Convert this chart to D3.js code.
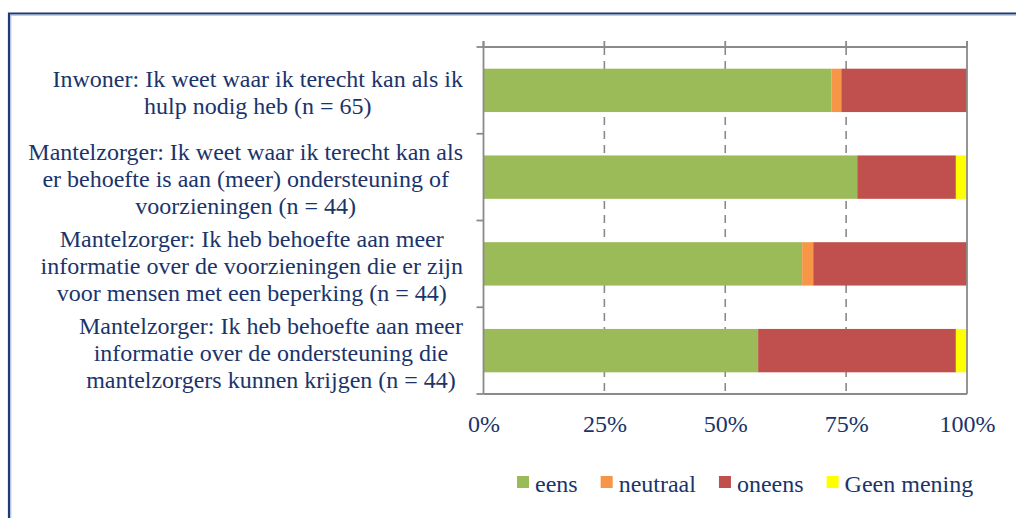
<!DOCTYPE html>
<html>
<head>
<meta charset="utf-8">
<script src="https://cdn.jsdelivr.net/npm/d3@7"></script>
<style>
  html, body { margin: 0; padding: 0; background: #ffffff; }
  svg { display: block; }
  text { font-family: "Liberation Serif", "Times New Roman", Tinos, serif; fill: #1A346B; }
</style>
</head>
<body>
<svg id="chart" width="1016" height="518"></svg>
<script>
// ---- data ----
const categories = [
  ["Inwoner: Ik weet waar ik terecht kan als ik", "hulp nodig heb (n = 65)"],
  ["Mantelzorger: Ik weet waar ik terecht kan als", "er behoefte is aan (meer) ondersteuning of", "voorzieningen (n = 44)"],
  ["Mantelzorger: Ik heb behoefte aan meer", "informatie over de voorzieningen die er zijn", "voor mensen met een beperking (n = 44)"],
  ["Mantelzorger: Ik heb behoefte aan meer", "informatie over de ondersteuning die", "mantelzorgers kunnen krijgen (n = 44)"]
];
const seriesNames = ["eens", "neutraal", "oneens", "Geen mening"];
const eens       = [72.0, 77.3, 65.9, 56.8];
const neutraal   = [2.0, 0.0, 2.3, 0.0];
const oneens     = [26.0, 20.4, 31.8, 40.9];
const geenMening = [0.0, 2.3, 0.0, 2.3];
const xTicks = [0, 25, 50, 75, 100];
const colors = ["#9BBB59", "#F79646", "#C0504D", "#FFFF00"];

// ---- build table ----
const ids = categories.map((c, i) => "c" + i);
const rows = ids.map((id, i) => ({
  id, lines: categories[i],
  "eens": eens[i], "neutraal": neutraal[i], "oneens": oneens[i], "Geen mening": geenMening[i]
}));
const stacked = d3.stack().keys(seriesNames)(rows);

const FONT = "'Liberation Serif', 'Times New Roman', Tinos, serif";
const TXT = "#1A346B";
const svg = d3.select("#chart");

// outer frame
svg.append("path")
  .attr("d", "M9,518 V13.5 H1016")
  .attr("fill", "none").attr("stroke", "#1F3A78").attr("stroke-width", 2.2);
svg.append("path")
  .attr("d", "M10.8,518 V15.2 H1016")
  .attr("fill", "none").attr("stroke", "#8FA6D0").attr("stroke-width", 0.8);

const pLeft = 483.5, pRight = 967, pTop = 47, pBottom = 394;
const x = d3.scaleLinear().domain([0, 100]).range([pLeft, pRight]);
const y = d3.scaleBand().domain(ids).range([pTop, pBottom]).paddingInner(0.5).paddingOuter(0.25);

const axisColor = "#8A8A8A";

// gridlines (dashed)
svg.append("g").selectAll("line").data(xTicks.filter(t => t > 0 && t < 100)).join("line")
  .attr("x1", d => x(d)).attr("x2", d => x(d))
  .attr("y1", pTop).attr("y2", pBottom)
  .attr("stroke", axisColor).attr("stroke-width", 1.6)
  .attr("stroke-dasharray", "8,6");

// bars
svg.append("g").selectAll("g").data(stacked).join("g")
  .attr("fill", (d, i) => colors[i])
  .selectAll("rect").data(d => d).join("rect")
  .attr("x", d => x(d[0]))
  .attr("width", d => Math.max(0, x(d[1]) - x(d[0])))
  .attr("y", d => y(d.data.id))
  .attr("height", y.bandwidth());

// plot frame lines
const g = svg.append("g").attr("stroke", axisColor).attr("stroke-width", 1.8).attr("fill", "none");
g.append("line").attr("x1", pLeft).attr("x2", pRight).attr("y1", pTop).attr("y2", pTop);
g.append("line").attr("x1", pLeft).attr("x2", pRight).attr("y1", pBottom).attr("y2", pBottom);
g.append("line").attr("x1", pRight).attr("x2", pRight).attr("y1", pTop - 6).attr("y2", pBottom);
g.append("line").attr("x1", pLeft).attr("x2", pLeft).attr("y1", pTop - 6).attr("y2", pBottom);
// top ticks
g.selectAll(".tt").data(xTicks).join("line").attr("class", "tt")
  .attr("x1", d => x(d)).attr("x2", d => x(d)).attr("y1", pTop - 6).attr("y2", pTop);
// category ticks on the left
const catTicks = [pTop].concat(ids.map(id => y(id) + y.bandwidth() + (y.step() - y.bandwidth()) / 2));
g.selectAll(".ct").data(catTicks).join("line").attr("class", "ct")
  .attr("x1", pLeft - 7).attr("x2", pLeft).attr("y1", d => d).attr("y2", d => d);

// x tick labels via axis
const xAxis = d3.axisBottom(x).tickValues(xTicks).tickSize(0).tickFormat(d => d + "%");
const ax = svg.append("g").attr("transform", `translate(0,${pBottom})`).call(xAxis)
  .attr("font-family", FONT).attr("font-size", 24);
ax.select(".domain").remove();
ax.selectAll("text")
  .attr("font-family", FONT)
  .attr("font-size", 24).attr("fill", TXT)
  .attr("dy", 0).attr("y", 38);

// category labels
const labelRight = 463, lineH = 27;
rows.forEach(r => {
  const cy = y(r.id) + y.bandwidth() / 2 + 2;
  const t = svg.append("text").attr("font-family", FONT).attr("fill", TXT)
    .attr("font-size", 24).attr("text-anchor", "middle");
  const n = r.lines.length;
  const spans = r.lines.map((ln, i) => t.append("tspan")
    .attr("y", cy + (i - (n - 1) / 2) * lineH + 8).text(ln));
  const maxW = d3.max(spans, s => s.node().getComputedTextLength());
  spans.forEach(s => s.attr("x", labelRight - maxW / 2));
});

// legend
const legend = svg.append("g");
let lx = 517;
seriesNames.forEach((name, i) => {
  legend.append("rect").attr("x", lx).attr("y", 476).attr("width", 12).attr("height", 12).attr("fill", colors[i]);
  const t = legend.append("text").attr("x", lx + 18).attr("y", 492)
    .attr("font-family", FONT).attr("fill", TXT).attr("font-size", 24).text(name);
  lx += 18 + t.node().getComputedTextLength() + 23;
});
</script>
</body>
</html>
